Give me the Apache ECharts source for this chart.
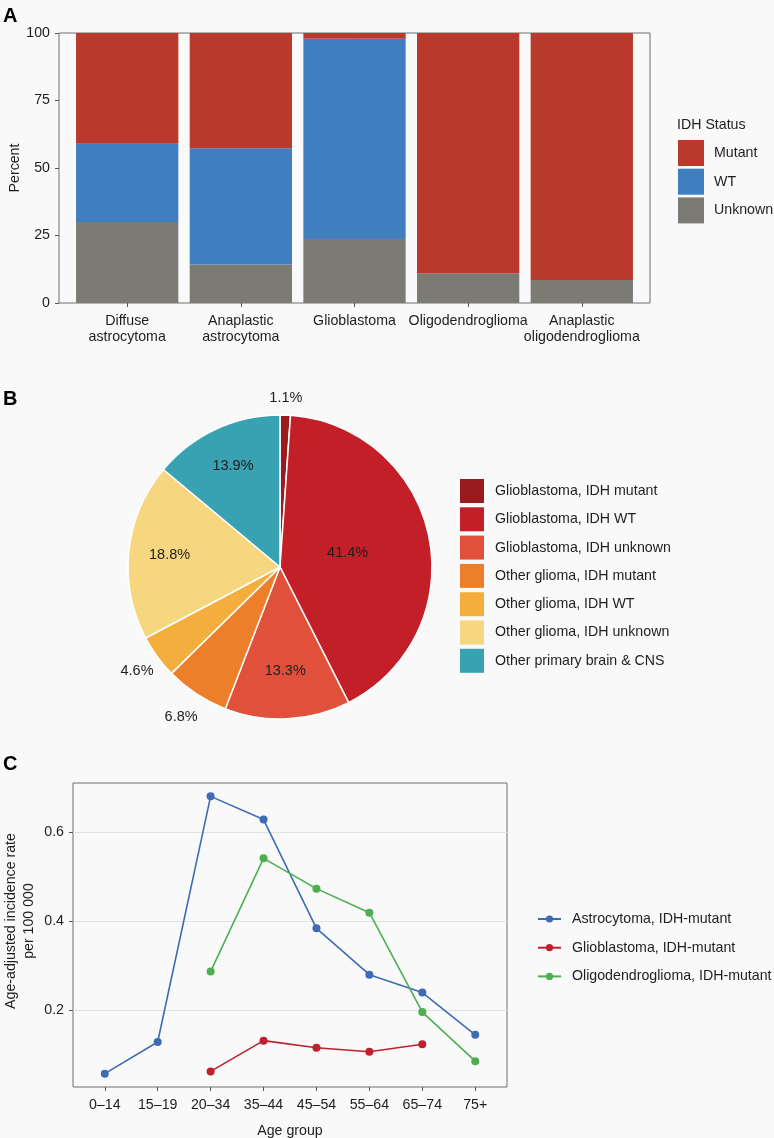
<!DOCTYPE html>
<html><head><meta charset="utf-8">
<script src="https://cdn.jsdelivr.net/npm/echarts@6/dist/echarts.min.js"></script>
<style>html,body{margin:0;padding:0;background:#f9f9f9}#c{width:774px;height:1138px}</style>
</head><body><div id="c"></div>
<script>
// ---- Panel A data ----
const tumorTypes = ['Diffuse\nastrocytoma', 'Anaplastic\nastrocytoma', 'Glioblastoma', 'Oligodendroglioma', 'Anaplastic\noligodendroglioma'];
const idhMutant = [41.0, 42.7, 2.1, 89.0, 91.5];
const idhWT = [29.0, 43.0, 74.2, 0, 0];
const idhUnknown = [30.0, 14.3, 23.7, 11.0, 8.5];

// ---- Panel B data ----
const pieNames = ['Glioblastoma, IDH mutant', 'Glioblastoma, IDH WT', 'Glioblastoma, IDH unknown', 'Other glioma, IDH mutant', 'Other glioma, IDH WT', 'Other glioma, IDH unknown', 'Other primary brain & CNS'];
const pieValues = [1.1, 41.4, 13.3, 6.8, 4.6, 18.8, 13.9];

// ---- Panel C data ----
const ageGroups = ['0\u201314', '15\u201319', '20\u201334', '35\u201344', '45\u201354', '55\u201364', '65\u201374', '75+'];
const astroMutant = [0.058, 0.129, 0.680, 0.628, 0.384, 0.280, 0.240, 0.145];
const gbmMutant = [null, null, 0.063, 0.132, 0.116, 0.107, 0.124, null];
const oligoMutant = [null, null, 0.287, 0.541, 0.473, 0.419, 0.196, 0.086];
const rateTicks = [0.2, 0.4, 0.6];

// ---- styling ----
const FONT = 'Liberation Sans, Arial, Helvetica, sans-serif';
const FS = 14.2;
const TXT = '#1e1e1e';
const AX = '#555';
const barColors = { Mutant: '#B9392D', WT: '#3F7EBF', Unknown: '#7B7A73' };
const pieColors = ['#9A1B1F', '#C31F28', '#E0503A', '#EE7F2A', '#F4AE3E', '#F6D780', '#38A1B2'];
const lineColors = ['#3E6BB4', '#C0202D', '#4CAF50'];

const pos = arr => arr.map((v, i) => [i + 1, v]).filter(p => p[1] !== null);
const idx = n => Array.from({ length: n }, (_, i) => i + 1);

// label placement for the pie: ring radius (px) each label sits on
const labelRing = [166, 66, 101, 177, 174, 108, 108];
const rings = [...new Set(labelRing)];

// panel A frame geometry (ggplot discrete expansion of 0.6 units each side)
const A_LEFT = 59, A_WIDTH = 591, A_UNIT = A_WIDTH / 5.2;

const chart = echarts.init(document.getElementById('c'), null, { renderer: 'canvas' });

const pieLabelSeries = rings.map(r => ({
  type: 'pie', center: [280, 567], radius: [0, r * 2], silent: true,
  legendHoverLink: false, avoidLabelOverlap: false, emphasis: { disabled: true },
  startAngle: 90, clockwise: true,
  label: { position: 'inside', fontSize: 14.5, color: TXT, fontFamily: FONT, formatter: p => p.value.toFixed(1) + '%' },
  labelLine: { show: false },
  data: pieNames.map((n, i) => ({
    name: n, value: pieValues[i],
    itemStyle: { color: 'rgba(0,0,0,0)', borderWidth: 0 },
    label: { show: labelRing[i] === r }
  }))
}));

const panelTitle = (t, top) => ({ text: t, left: 3, top: top, padding: 0, textStyle: { fontSize: 20, fontWeight: 'bold', color: '#000', fontFamily: FONT } });

const option = {
  backgroundColor: '#f9f9f9',
  animation: false,
  textStyle: { fontFamily: FONT },
  title: [
    panelTitle('A', 6), panelTitle('B', 389), panelTitle('C', 754),
    { text: 'IDH Status', left: 677, top: 118, padding: 0, textStyle: { fontSize: FS, fontWeight: 'normal', color: TXT, fontFamily: FONT } }
  ],
  legend: [
    {
      data: ['Mutant', 'WT', 'Unknown'], orient: 'vertical', left: 678, top: 140, padding: 0,
      itemWidth: 26, itemHeight: 26, itemGap: 2.7, icon: 'rect', selectedMode: false,
      itemStyle: { borderWidth: 0 },
      textStyle: { fontSize: FS, color: TXT, fontFamily: FONT, padding: [0, 0, 0, 5] }
    },
    {
      data: pieNames, orient: 'vertical', left: 460, top: 479, padding: 0,
      itemWidth: 24, itemHeight: 24, itemGap: 4.3, icon: 'rect', selectedMode: false,
      itemStyle: { borderWidth: 0 },
      textStyle: { fontSize: FS, color: TXT, fontFamily: FONT, padding: [0, 0, 0, 6] }
    },
    {
      data: ['Astrocytoma, IDH-mutant', 'Glioblastoma, IDH-mutant', 'Oligodendroglioma, IDH-mutant'],
      orient: 'vertical', left: 537, top: 911, padding: 0,
      itemWidth: 23, itemHeight: 9, itemGap: 12.7, selectedMode: false,
      textStyle: { fontSize: FS, color: TXT, fontFamily: FONT, lineHeight: 16, padding: [0, 0, 0, 6] }
    }
  ],
  grid: [
    // 0: panel A bars (category span inside the frame)
    { left: A_LEFT + 0.1 * A_UNIT, top: 33, width: 5 * A_UNIT, height: 270, show: false, outerBoundsMode: 'none' },
    // 1: panel C
    { left: 73, top: 783, width: 434, height: 304, show: true, borderColor: '#6f6f6f', borderWidth: 1, backgroundColor: 'transparent', outerBoundsMode: 'none' },
    // 2: panel A frame + y axis
    { left: A_LEFT, top: 33, width: A_WIDTH, height: 270, show: true, borderColor: '#6f6f6f', borderWidth: 1, backgroundColor: 'transparent', outerBoundsMode: 'none' }
  ],
  xAxis: [
    {
      gridIndex: 0, type: 'category', data: tumorTypes, boundaryGap: true,
      axisLine: { show: false }, splitLine: { show: false },
      axisTick: { show: true, alignWithLabel: true, length: 4, lineStyle: { color: AX } },
      axisLabel: { fontSize: FS, color: TXT, lineHeight: 16, margin: 10, interval: 0 }
    },
    {
      gridIndex: 1, type: 'value', min: 0.4, max: 8.6,
      name: 'Age group', nameLocation: 'middle', nameGap: 37, nameMoveOverlap: false,
      nameTextStyle: { fontSize: FS, color: TXT },
      axisLine: { show: false }, splitLine: { show: false },
      axisTick: { show: true, customValues: idx(ageGroups.length), length: 4, lineStyle: { color: AX } },
      axisLabel: { customValues: idx(ageGroups.length), formatter: v => ageGroups[Math.round(v) - 1], fontSize: FS, color: TXT, margin: 11 }
    },
    { gridIndex: 2, type: 'value', min: 0, max: 1, show: false }
  ],
  yAxis: [
    { gridIndex: 0, type: 'value', min: 0, max: 100, show: false },
    {
      gridIndex: 1, type: 'value', min: 0.028, max: 0.710, splitNumber: 3, minInterval: 0.2, maxInterval: 0.2,
      name: 'Age-adjusted incidence rate\nper 100 000', nameLocation: 'middle', nameGap: 35, nameMoveOverlap: false,
      nameTextStyle: { fontSize: FS, color: TXT, lineHeight: 18, padding: [0, 0, 0, 28] },
      axisLine: { show: false },
      splitLine: { show: true, lineStyle: { color: '#e2e2e2', width: 1 } },
      axisTick: { show: true, customValues: rateTicks, length: 4, lineStyle: { color: AX } },
      axisLabel: { customValues: rateTicks, formatter: v => v.toFixed(1), fontSize: FS, color: TXT, margin: 9 }
    },
    {
      gridIndex: 2, type: 'value', min: 0, max: 100, interval: 25,
      name: 'Percent', nameLocation: 'middle', nameGap: 37, nameMoveOverlap: false,
      nameTextStyle: { fontSize: FS, color: TXT },
      axisLine: { show: false }, splitLine: { show: false },
      axisTick: { show: true, length: 4, lineStyle: { color: AX } },
      axisLabel: { fontSize: FS, color: TXT, margin: 9 }
    }
  ],
  series: [
    { name: 'Unknown', type: 'bar', stack: 'idh', xAxisIndex: 0, yAxisIndex: 0, barCategoryGap: '10%', itemStyle: { color: barColors.Unknown }, data: idhUnknown },
    { name: 'WT', type: 'bar', stack: 'idh', xAxisIndex: 0, yAxisIndex: 0, barCategoryGap: '10%', itemStyle: { color: barColors.WT }, data: idhWT },
    { name: 'Mutant', type: 'bar', stack: 'idh', xAxisIndex: 0, yAxisIndex: 0, barCategoryGap: '10%', itemStyle: { color: barColors.Mutant }, data: idhMutant },
    {
      type: 'pie', center: [280, 567], radius: [0, 152], startAngle: 90, clockwise: true,
      avoidLabelOverlap: false, label: { show: false }, labelLine: { show: false },
      itemStyle: { borderColor: '#ffffff', borderWidth: 1.5 },
      data: pieNames.map((n, i) => ({ name: n, value: pieValues[i], itemStyle: { color: pieColors[i] } }))
    },
    ...pieLabelSeries,
    { name: 'Astrocytoma, IDH-mutant', type: 'line', xAxisIndex: 1, yAxisIndex: 1, data: pos(astroMutant), symbol: 'circle', symbolSize: 8, color: lineColors[0], lineStyle: { width: 1.6 } },
    { name: 'Glioblastoma, IDH-mutant', type: 'line', xAxisIndex: 1, yAxisIndex: 1, data: pos(gbmMutant), symbol: 'circle', symbolSize: 8, color: lineColors[1], lineStyle: { width: 1.6 } },
    { name: 'Oligodendroglioma, IDH-mutant', type: 'line', xAxisIndex: 1, yAxisIndex: 1, data: pos(oligoMutant), symbol: 'circle', symbolSize: 8, color: lineColors[2], lineStyle: { width: 1.6 } }
  ]
};
chart.setOption(option);
</script>
</body></html>
